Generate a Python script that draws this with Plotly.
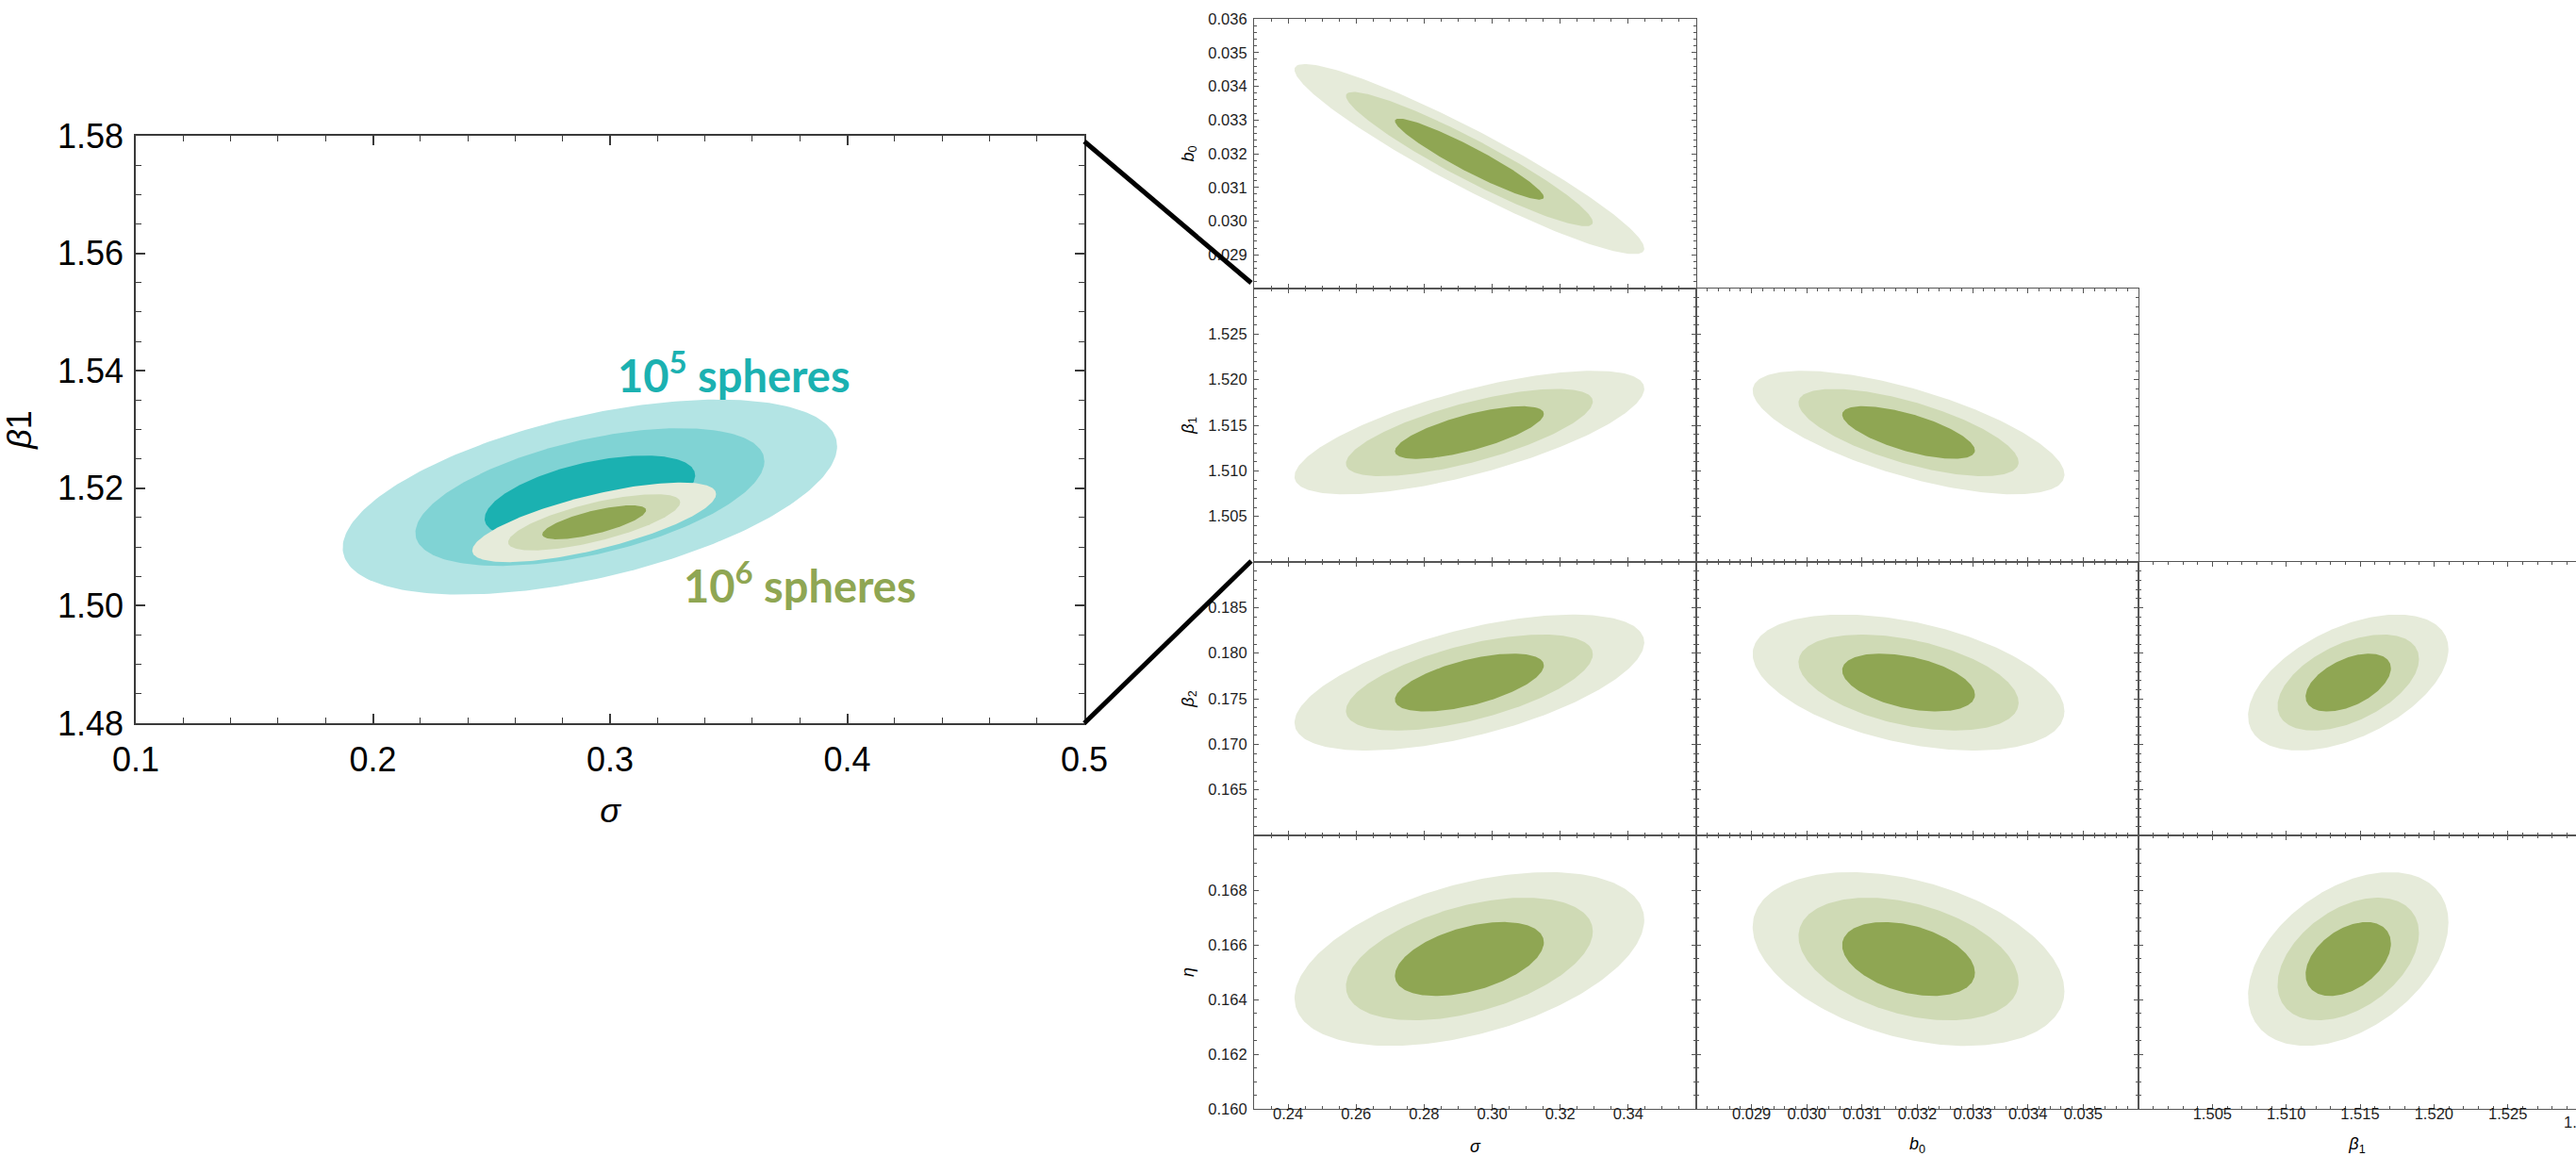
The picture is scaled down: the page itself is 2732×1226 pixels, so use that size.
import numpy as np
import plotly.graph_objects as go

# ---------------------------------------------------------------------------
# Posterior summaries
# ---------------------------------------------------------------------------
param_titles = ["<i>σ</i>", "<i>b</i><sub>0</sub>", "<i>β</i><sub>1</sub>",
                "<i>β</i><sub>2</sub>", "<i>η</i>"]

# 10^6 spheres: means / standard deviations of sigma, b0, beta1, beta2, eta
mean_1e6 = [0.2933, 0.03184, 1.5142, 0.17677, 0.16548]
std_1e6 = [0.0144, 0.00079, 0.0019, 0.00209, 0.00089]

# correlation coefficients of the (row, column) parameter pairs
corr_rows = [1, 2, 2, 3, 3, 3, 4, 4, 4]
corr_cols = [0, 0, 1, 0, 1, 2, 0, 1, 2]
corr_1e6 = [-0.94, 0.71, -0.68, 0.59, -0.42, 0.49, 0.45, -0.37, 0.42]

# 10^5 spheres: sigma and beta1 only
mean_1e5 = [0.2915, 1.5185]
std_1e5 = [0.0292, 0.00465]
corr_1e5 = 0.52

# contour radii in units of standard deviation (outermost first)
contour_radii = [3.57, 2.52, 1.52]

# corner-plot axes
axis_ranges = [[0.23, 0.36], [0.028, 0.036], [1.500, 1.530],
               [0.160, 0.190], [0.160, 0.170]]
x_ticks = [[0.24, 0.26, 0.28, 0.30, 0.32, 0.34],
           [0.029, 0.030, 0.031, 0.032, 0.033, 0.034, 0.035],
           [1.505, 1.510, 1.515, 1.520, 1.525]]
y_ticks = [None,
           [0.029, 0.030, 0.031, 0.032, 0.033, 0.034, 0.035, 0.036],
           [1.505, 1.510, 1.515, 1.520, 1.525],
           [0.165, 0.170, 0.175, 0.180, 0.185],
           [0.160, 0.162, 0.164, 0.166, 0.168]]
axis_minor = [0.005, 0.0002, 0.001, 0.001, 0.0005]
axis_format = [".2f", ".3f", ".3f", ".3f", ".3f"]

# zoomed-out sigma / beta1 panel
overview_x_range = [0.1, 0.5]
overview_y_range = [1.48, 1.58]

green = ["#e6ebda", "#cfdab5", "#8fa653"]
teal = ["#b3e4e4", "#80d3d4", "#1bb1b1"]

# ---------------------------------------------------------------------------
# Page geometry (pixels)
# ---------------------------------------------------------------------------
W, H = 2732, 1226
LEFT_X = (144, 1150)
LEFT_Y = (144, 767)
COL_EDGES = [1330, 1799, 2268, 2732]
COL3_FULL_WIDTH = 470          # last column runs past the page edge
ROW_EDGES = [20, 306, 596, 886, 1176]


def fx(p):
    return p / W


def fy(p):
    return 1 - p / H


def ellipse(mx, my, sx, sy, rho, k, n=241):
    t = np.linspace(0, 2 * np.pi, n)
    x = mx + k * sx * np.cos(t)
    y = my + k * sy * (rho * np.cos(t) + np.sqrt(1 - rho ** 2) * np.sin(t))
    return x, y


fig = go.Figure()

# --- overview panel -------------------------------------------------------
for k, col in zip(contour_radii, teal):
    x, y = ellipse(mean_1e5[0], mean_1e5[1], std_1e5[0], std_1e5[1], corr_1e5, k)
    fig.add_trace(go.Scatter(x=x, y=y, mode="lines", fill="toself", fillcolor=col,
                             line=dict(width=0), hoverinfo="skip",
                             xaxis="x", yaxis="y"))
rho_sb = corr_1e6[1]  # (beta1, sigma)
for k, col in zip(contour_radii, green):
    x, y = ellipse(mean_1e6[0], mean_1e6[2], std_1e6[0], std_1e6[2], rho_sb, k)
    fig.add_trace(go.Scatter(x=x, y=y, mode="lines", fill="toself", fillcolor=col,
                             line=dict(width=0), hoverinfo="skip",
                             xaxis="x", yaxis="y"))

frame = dict(showline=True, linecolor="#3a3a3a", linewidth=1.5, mirror="ticks",
             showgrid=False, zeroline=False, ticks="inside", tickcolor="#3a3a3a",
             automargin=False)

layout = dict(
    width=W, height=H, margin=dict(l=0, r=0, t=0, b=0, autoexpand=False),
    paper_bgcolor="white", plot_bgcolor="white", showlegend=False,
    font=dict(family="Liberation Sans, Arial, sans-serif", color="black"),
)

layout["xaxis"] = dict(
    frame, domain=[fx(LEFT_X[0]), fx(LEFT_X[1])], range=overview_x_range,
    anchor="y", tick0=0.1, dtick=0.1, tickformat=".1f", ticklen=10, tickwidth=1.5,
    minor=dict(ticks="inside", tick0=0.1, dtick=0.02, ticklen=6, tickwidth=1,
               tickcolor="#3a3a3a", showgrid=False),
    tickfont=dict(size=36), ticklabelstandoff=6,
    title=dict(text="<i>σ</i>", font=dict(size=36), standoff=22),
)
layout["yaxis"] = dict(
    frame, domain=[fy(LEFT_Y[1]), fy(LEFT_Y[0])], range=overview_y_range,
    anchor="x", tick0=1.48, dtick=0.02, tickformat=".2f", ticklen=10, tickwidth=1.5,
    minor=dict(ticks="inside", tick0=1.48, dtick=0.005, ticklen=6, tickwidth=1,
               tickcolor="#3a3a3a", showgrid=False),
    tickfont=dict(size=36), ticklabelstandoff=4,
    title=dict(text="<i>β</i>1", font=dict(size=36), standoff=24),
)

# --- corner plot ----------------------------------------------------------
panels = [(r, c) for r, c in zip(corr_rows, corr_cols)]
for i, ((r, c), rho) in enumerate(zip(panels, corr_1e6)):
    n = i + 2
    xa, ya = f"x{n}", f"y{n}"
    for k, col in zip(contour_radii, green):
        x, y = ellipse(mean_1e6[c], mean_1e6[r], std_1e6[c], std_1e6[r], rho, k)
        fig.add_trace(go.Scatter(x=x, y=y, mode="lines", fill="toself", fillcolor=col,
                                 line=dict(width=0), hoverinfo="skip",
                                 xaxis=xa, yaxis=ya))

    x0, x1 = COL_EDGES[c], COL_EDGES[c + 1]
    xr = list(axis_ranges[c])
    if c == 2:
        xr[1] = xr[0] + (xr[1] - xr[0]) * (x1 - x0) / COL3_FULL_WIDTH
    y0, y1 = ROW_EDGES[r - 1], ROW_EDGES[r]
    grid_frame = dict(frame, linecolor="#555555", linewidth=1.2, tickcolor="#555555",
                      ticklen=5, tickwidth=1,
                      tickfont=dict(size=16.5, color="#1e1e1e"))
    bottom = r == 4
    left = c == 0
    xaxis = dict(
        grid_frame, domain=[fx(x0), fx(x1)], range=xr, anchor=ya,
        tickmode="array", tickvals=x_ticks[c], tickformat=axis_format[c],
        showticklabels=bottom, ticklabelstandoff=-10,
        minor=dict(ticks="inside", tickmode="linear", tick0=axis_ranges[c][0],
                   dtick=axis_minor[c], ticklen=3, tickwidth=1, tickcolor="#555555",
                   showgrid=False),
    )
    if bottom:
        xaxis["title"] = dict(text=param_titles[c], font=dict(size=18), standoff=20)
    yaxis = dict(
        grid_frame, domain=[fy(y1), fy(y0)], range=axis_ranges[r], anchor=xa,
        mirror=("ticks" if c < 2 else False),
        tickmode="array", tickvals=y_ticks[r], tickformat=axis_format[r],
        showticklabels=left, ticklabelstandoff=3,
        minor=dict(ticks="inside", tickmode="linear", tick0=axis_ranges[r][0],
                   dtick=axis_minor[r], ticklen=3, tickwidth=1, tickcolor="#555555",
                   showgrid=False),
    )
    if left:
        yaxis["title"] = dict(text=param_titles[r], font=dict(size=18), standoff=10)
    layout[f"xaxis{n}"] = xaxis
    layout[f"yaxis{n}"] = yaxis

fig.update_layout(**layout)

# connector lines from the overview panel to the corner plot
connectors = [((LEFT_X[1], 150), (COL_EDGES[0] - 3, 300)),
              ((LEFT_X[1], LEFT_Y[1]), (COL_EDGES[0] - 3, 595))]
for (ax0, ay0), (ax1, ay1) in connectors:
    fig.add_shape(type="line", xref="paper", yref="paper",
                  x0=fx(ax0), y0=fy(ay0), x1=fx(ax1), y1=fy(ay1),
                  line=dict(color="black", width=5))

# sample-size labels
fig.add_annotation(x=0.3521, y=1.5397, xref="x", yref="y", showarrow=False,
                   text="10<sup>5</sup> spheres",
                   font=dict(family="Lato, Open Sans, sans-serif", size=47,
                             color="#1bb1b1", weight="bold"))
fig.add_annotation(x=0.3803, y=1.5039, xref="x", yref="y", showarrow=False,
                   text="10<sup>6</sup> spheres",
                   font=dict(family="Lato, Open Sans, sans-serif", size=47,
                             color="#8fa653", weight="bold"))

# last beta1 tick label, cut by the page edge
fig.add_annotation(x=fx(COL_EDGES[2] + COL3_FULL_WIDTH + 1), y=fy(1190),
                   xref="paper", yref="paper", xanchor="center", yanchor="middle",
                   showarrow=False, text="1.530",
                   font=dict(size=16.5, color="#1e1e1e"))

fig.write_html("out.html", config={"displayModeBar": False})
